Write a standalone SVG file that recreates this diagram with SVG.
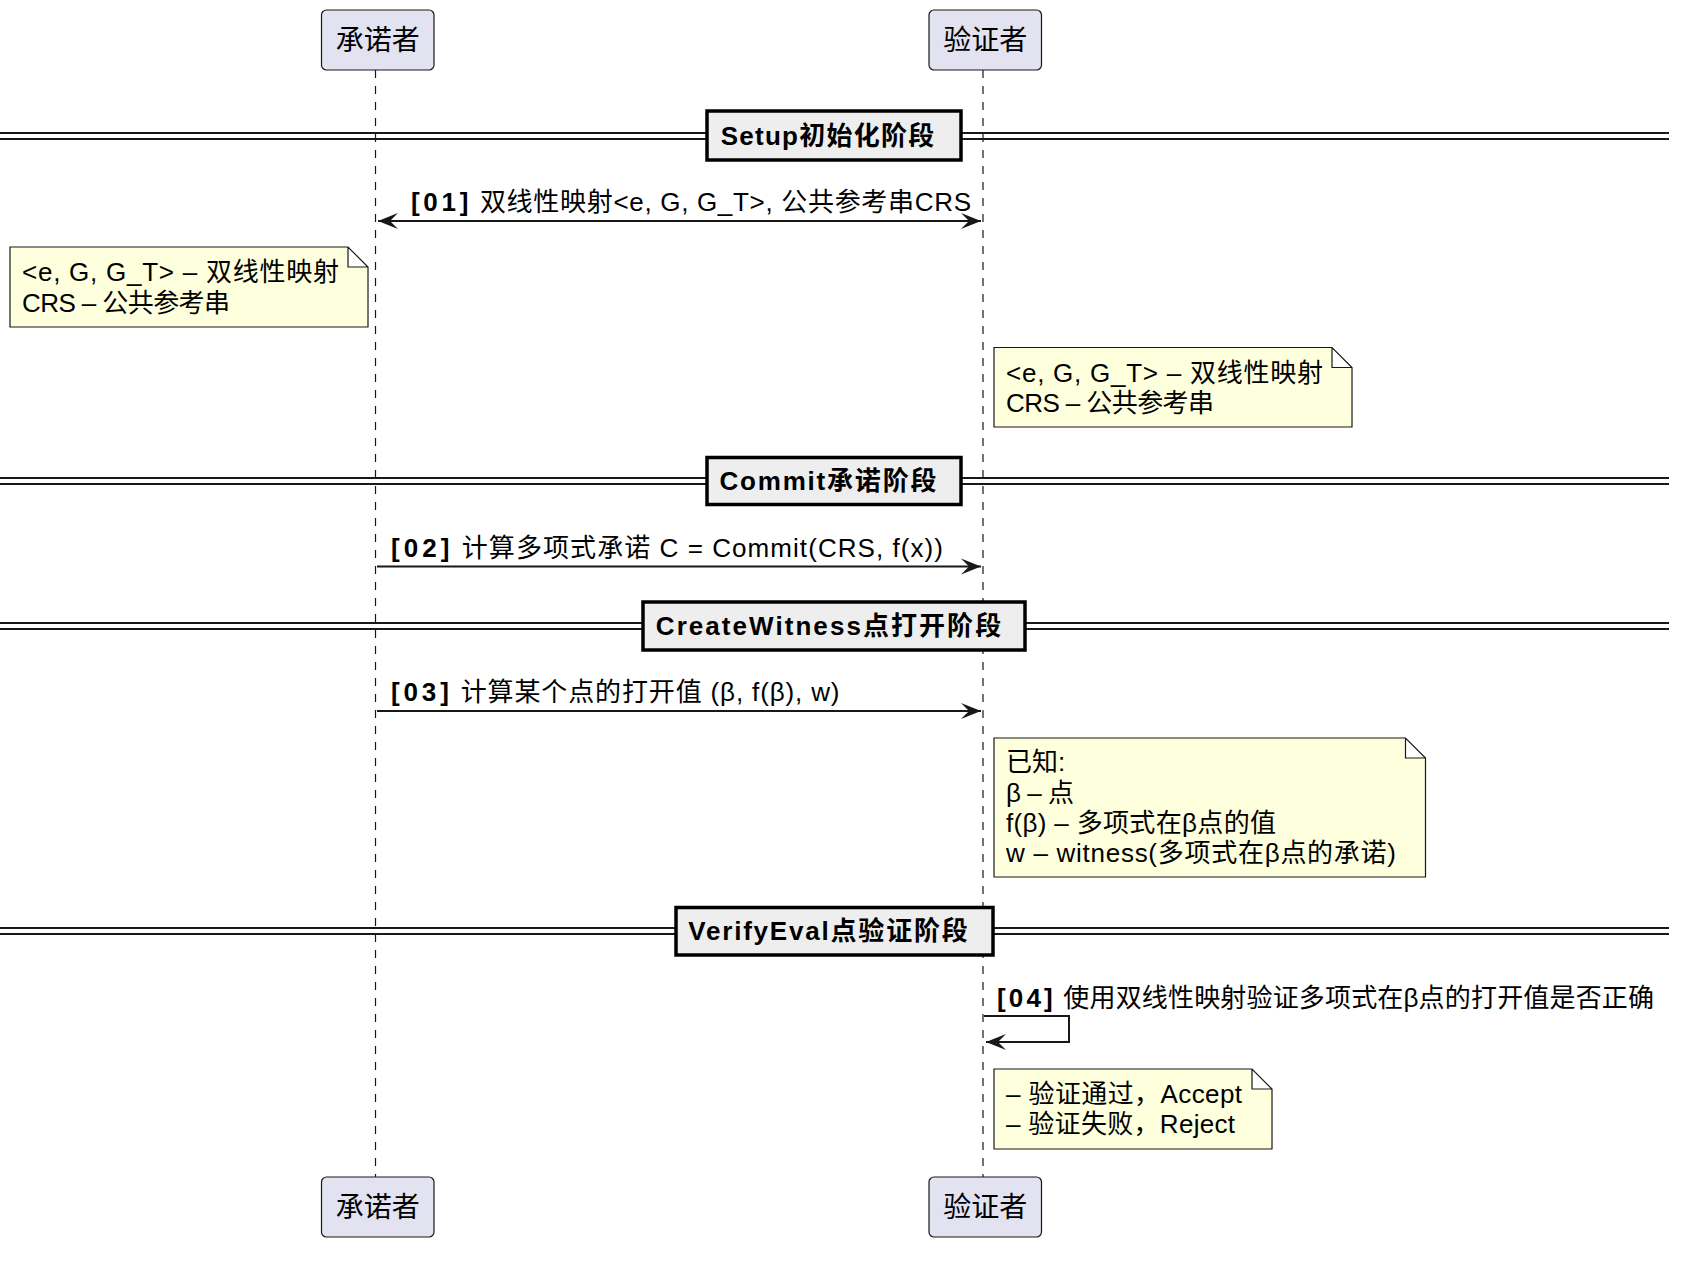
<svg xmlns="http://www.w3.org/2000/svg" width="1692" height="1272" viewBox="0 0 1692 1272">
<defs>
<style>
text{font-family:"Liberation Sans","Noto Sans CJK SC",sans-serif;fill:#000}
.part rect{fill:#E2E2F0;stroke:#181818;stroke-width:1.2}
.part text{font-size:28px;text-anchor:middle}
.life{stroke:#181818;stroke-width:1.2;stroke-dasharray:8,8;fill:none}
.dl{stroke:#181818;stroke-width:2}
.div rect{fill:#EEEEEE;stroke:#000;stroke-width:3.5}
.div text{font-size:26px;font-weight:bold;text-anchor:middle}
.msg{stroke:#181818;stroke-width:2;fill:none}
.mt{font-size:26px}
.num{font-weight:bold;letter-spacing:3px}
.note path{fill:#FEFFDD;stroke:#181818;stroke-width:1.2}
.note text{font-size:26px}
</style>
<marker id="ah" viewBox="-22 -10 24 20" refX="0" refY="0" markerWidth="24" markerHeight="20" markerUnits="userSpaceOnUse" orient="auto-start-reverse">
<path d="M0,0 L-20,-8 L-12,0 L-20,8 Z" fill="#181818"/>
</marker>
</defs>
<rect width="1692" height="1272" fill="#fff"/>

<g id="lifelines">
<line class="life" x1="375.5" y1="70" x2="375.5" y2="1177"/>
<line class="life" x1="983" y1="70" x2="983" y2="1177"/>
</g>

<g id="div-setup" class="div">
<line class="dl" x1="0" y1="133" x2="1669" y2="133"/>
<line class="dl" x1="0" y1="139" x2="1669" y2="139"/>
<rect x="707" y="111" width="254" height="49"/>
<text x="827.5" y="145" textLength="213.7" lengthAdjust="spacing">Setup初始化阶段</text>
</g>

<g id="div-commit" class="div">
<line class="dl" x1="0" y1="478" x2="1669" y2="478"/>
<line class="dl" x1="0" y1="484" x2="1669" y2="484"/>
<rect x="707" y="457.5" width="254" height="47"/>
<text x="828" y="490" textLength="216.9" lengthAdjust="spacing">Commit承诺阶段</text>
</g>

<g id="div-witness" class="div">
<line class="dl" x1="0" y1="623" x2="1669" y2="623"/>
<line class="dl" x1="0" y1="629" x2="1669" y2="629"/>
<rect x="643" y="602" width="382" height="48"/>
<text x="828.5" y="635" textLength="345.3" lengthAdjust="spacing">CreateWitness点打开阶段</text>
</g>

<g id="div-verify" class="div">
<line class="dl" x1="0" y1="928" x2="1669" y2="928"/>
<line class="dl" x1="0" y1="934" x2="1669" y2="934"/>
<rect x="676" y="907.5" width="317" height="47.5"/>
<text x="828" y="940" textLength="279.5" lengthAdjust="spacing">VerifyEval点验证阶段</text>
</g>

<g id="connectors">
<line class="msg" x1="378" y1="221" x2="981" y2="221" marker-start="url(#ah)" marker-end="url(#ah)"/>
<line class="msg" x1="377" y1="566.5" x2="981" y2="566.5" marker-end="url(#ah)"/>
<line class="msg" x1="377" y1="711" x2="981" y2="711" marker-end="url(#ah)"/>
<path class="msg" d="M984,1016 H1069 V1042 H986" marker-end="url(#ah)"/>
</g>

<g id="labels">
<text class="mt" x="411" y="211" textLength="560" lengthAdjust="spacing"><tspan class="num">[01]</tspan> 双线性映射&lt;e, G, G_T&gt;, 公共参考串CRS</text>
<text class="mt" x="391" y="557" textLength="552" lengthAdjust="spacing"><tspan class="num">[02]</tspan> 计算多项式承诺 C = Commit(CRS, f(x))</text>
<text class="mt" x="391" y="701" textLength="448.5" lengthAdjust="spacing"><tspan class="num">[03]</tspan> 计算某个点的打开值 (β, f(β), w)</text>
<text class="mt" x="997" y="1007" textLength="657" lengthAdjust="spacing"><tspan class="num">[04]</tspan> 使用双线性映射验证多项式在β点的打开值是否正确</text>
</g>

<g id="note1" class="note">
<path d="M10,247 H348 L368,267 V327 H10 Z M348,247 V267 H368"/>
<text x="22" y="281" textLength="317" lengthAdjust="spacing">&lt;e, G, G_T&gt; – 双线性映射</text>
<text x="22" y="312" textLength="208" lengthAdjust="spacing">CRS – 公共参考串</text>
</g>

<g id="note2" class="note">
<path d="M994,347.5 H1332 L1352,367.5 V427 H994 Z M1332,347.5 V367.5 H1352"/>
<text x="1006" y="382" textLength="317" lengthAdjust="spacing">&lt;e, G, G_T&gt; – 双线性映射</text>
<text x="1006" y="411.5" textLength="208" lengthAdjust="spacing">CRS – 公共参考串</text>
</g>

<g id="note3" class="note">
<path d="M994,738 H1405.5 L1425.5,758 V877 H994 Z M1405.5,738 V758 H1425.5"/>
<text x="1006" y="771">已知:</text>
<text x="1006" y="802" textLength="68" lengthAdjust="spacing">β – 点</text>
<text x="1006" y="832" textLength="270" lengthAdjust="spacing">f(β) – 多项式在β点的值</text>
<text x="1006" y="862" textLength="390" lengthAdjust="spacing">w – witness(多项式在β点的承诺)</text>
</g>

<g id="note4" class="note">
<path d="M994,1069 H1252 L1272,1089 V1149 H994 Z M1252,1069 V1089 H1272"/>
<text x="1006" y="1103" textLength="236" lengthAdjust="spacing">– 验证通过，Accept</text>
<text x="1006" y="1133" textLength="229" lengthAdjust="spacing">– 验证失败，Reject</text>
</g>

<g id="p-prover-top" class="part">
<rect x="321.5" y="10" width="112.5" height="60" rx="5"/>
<text x="377.75" y="50">承诺者</text>
</g>
<g id="p-verifier-top" class="part">
<rect x="929" y="10" width="112.5" height="60" rx="5"/>
<text x="985.25" y="50">验证者</text>
</g>
<g id="p-prover-bottom" class="part">
<rect x="321.5" y="1177" width="112.5" height="60" rx="5"/>
<text x="377.75" y="1217">承诺者</text>
</g>
<g id="p-verifier-bottom" class="part">
<rect x="929" y="1177" width="112.5" height="60" rx="5"/>
<text x="985.25" y="1217">验证者</text>
</g>
</svg>
